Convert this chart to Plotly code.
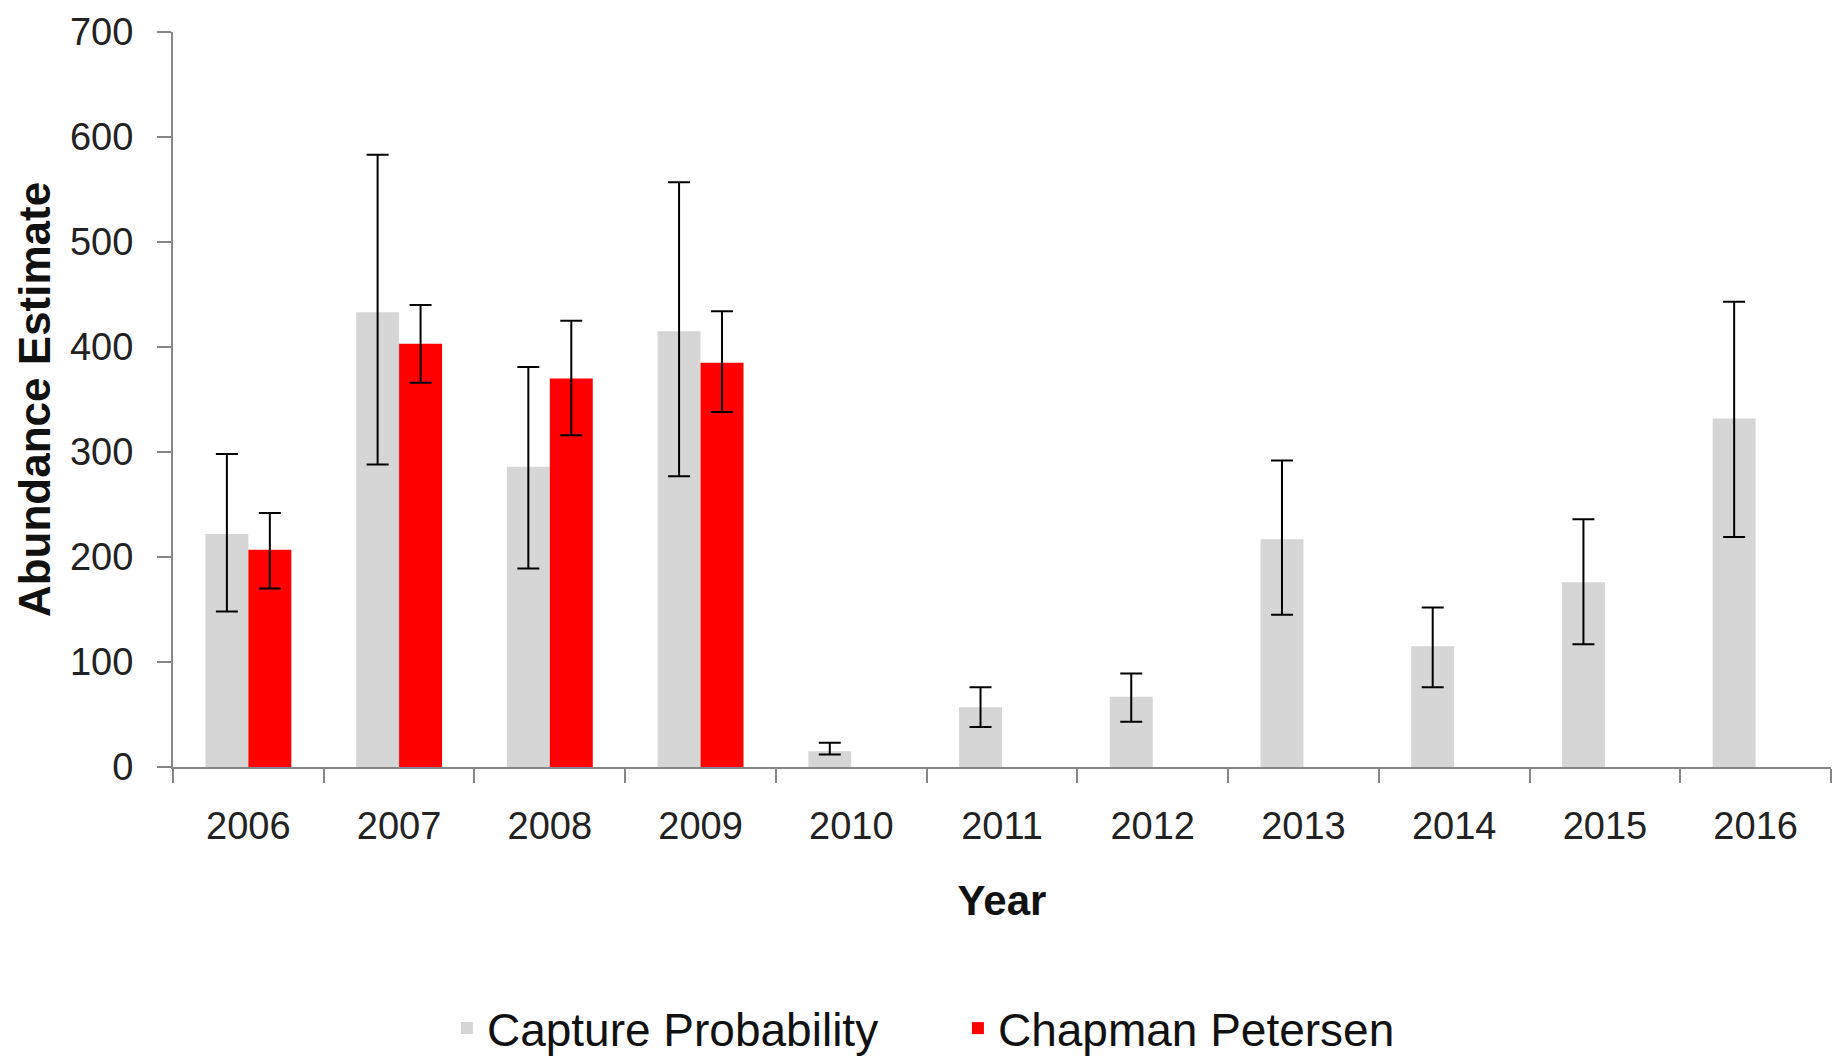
import plotly.graph_objects as go

# Abundance estimates by year, with upper/lower confidence limits
years = ["2006", "2007", "2008", "2009", "2010", "2011",
         "2012", "2013", "2014", "2015", "2016"]

capture_prob = [222, 433, 286, 415, 15, 57, 67, 217, 115, 176, 332]
capture_upper = [298, 583, 381, 557, 23, 76, 89, 292, 152, 236, 443]
capture_lower = [148, 288, 189, 277, 12, 38, 43, 145, 76, 117, 219]

chapman = [207, 403, 370, 385, None, None, None, None, None, None, None]
chapman_upper = [242, 440, 425, 434, None, None, None, None, None, None, None]
chapman_lower = [170, 366, 316, 338, None, None, None, None, None, None, None]

y_ticks = [0, 100, 200, 300, 400, 500, 600, 700]

GRAY = "#d6d6d6"
RED = "#ff0000"
AXIS = "#868686"
FONT = "Liberation Sans, Arial, sans-serif"


def plus(vals, hi):
    return [None if v is None else h - v for v, h in zip(vals, hi)]


def minus(vals, lo):
    return [None if v is None else v - l for v, l in zip(vals, lo)]


def err(vals, hi, lo):
    return dict(type="data", symmetric=False,
                array=plus(vals, hi), arrayminus=minus(vals, lo),
                color="black", thickness=2, width=11)


fig = go.Figure()
fig.add_trace(go.Bar(
    name="Capture Probability", x=years, y=capture_prob,
    marker=dict(color=GRAY, line=dict(width=0)),
    error_y=err(capture_prob, capture_upper, capture_lower),
))
fig.add_trace(go.Bar(
    name="Chapman Petersen", x=years, y=chapman,
    marker=dict(color=RED, line=dict(width=0)),
    error_y=err(chapman, chapman_upper, chapman_lower),
))

fig.update_layout(
    width=1843, height=1060,
    margin=dict(l=173, r=12, t=32, b=293),
    paper_bgcolor="white", plot_bgcolor="white",
    barmode="group", bargap=0.43, bargroupgap=0,
    font=dict(family=FONT, color="#222222"),
    showlegend=True,
    legend=dict(
        orientation="h", xref="container", yref="container",
        x=0.2425, xanchor="left", y=0.03, yanchor="middle",
        font=dict(family=FONT, size=46, color="#111111"),
        itemwidth=30, traceorder="normal",
        entrywidth=466, entrywidthmode="pixels",
    ),
    xaxis=dict(
        type="category", showgrid=False, zeroline=False, automargin=False,
        showline=True, linecolor=AXIS, linewidth=2,
        ticks="outside", tickson="boundaries", ticklen=14,
        tickcolor=AXIS, tickwidth=1.5,
        tickfont=dict(family=FONT, size=38, color="#222222"),
        ticklabelstandoff=24,
        title=dict(text="<b>Year</b>", standoff=40,
                   font=dict(family=FONT, size=42, color="#111111")),
    ),
    yaxis=dict(
        range=[0, 700], tickvals=y_ticks, showgrid=False, zeroline=False,
        automargin=False,
        showline=True, linecolor=AXIS, linewidth=2,
        ticks="outside", ticklen=14, tickcolor=AXIS, tickwidth=1.5,
        tickfont=dict(family=FONT, size=38, color="#222222"),
        ticklabelstandoff=16,
        title=dict(text="<b>Abundance Estimate</b>", standoff=6,
                   font=dict(family=FONT, size=44, color="#111111")),
    ),
)

fig.write_html("out.html")
